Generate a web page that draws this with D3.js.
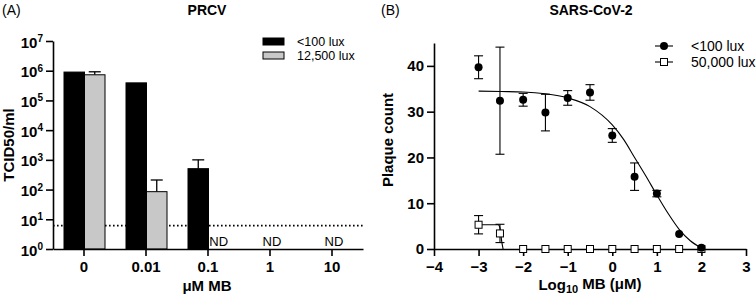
<!DOCTYPE html>
<html>
<head>
<meta charset="utf-8">
<script src="https://cdn.jsdelivr.net/npm/d3@7"></script>
<style>
  body { margin: 0; background: #fff; }
  svg { display: block; font-family: "Liberation Sans", Arial, sans-serif; }
  .axis path, .axis line { stroke: #000; stroke-width: 1.6px; }
  .axis text { font-size: 15px; font-weight: bold; fill: #000; }
</style>
</head>
<body>
<div id="chart"></div>
<script>
// Panel A: PRCV titers (TCID50/ml)
const categories = ["0", "0.01", "0.1", "1", "10"];
const seriesA = ["<100 lux", "12,500 lux"];
const darkTiter = [9.0e5, 3.9e5, 505, null, null];
const darkTiterErr = [null, null, 1000, null, null];   // upper end of error bar
const lightTiter = [7.3e5, 85, null, null, null];
const lightTiterErr = [9.2e5, 210, null, null, null];
const detectionLimit = 6.1;
const logTicks = [1, 10, 100, 1e3, 1e4, 1e5, 1e6, 1e7];

// Panel B: SARS-CoV-2 plaque counts
const seriesB = ["<100 lux", "50,000 lux"];
const logMB = [-3, -2.52, -2, -1.5, -1, -0.5, 0, 0.5, 1, 1.5, 2];
const darkCount = [39.7, 32.4, 32.6, 29.8, 33.0, 34.2, 24.8, 15.8, 12.1, 3.3, 0.3];
const darkSD = [2.5, 11.7, 1.4, 4.0, 1.6, 1.7, 1.5, 3.0, 0.7, 0.3, 0.3];
const lightCount = [5.3, 3.4, 0, 0, 0, 0, 0, 0, 0, 0, 0];
const lightSD = [2.0, 2.0, 0, 0, 0, 0, 0, 0, 0, 0, 0];
// fitted curves
const darkFitX = [-3, -2.5, -2, -1.5, -1, -0.5, 0, 0.25, 0.5, 0.75, 1, 1.25, 1.5, 1.75, 2];
const darkFitY = [34.5, 34.4, 34.3, 33.9, 33.0, 31.1, 27.1, 24.0, 20.0, 16.0, 11.8, 7.8, 4.3, 1.8, 0.2];
const lightFitX = [-3, -2.56, -2.52, -2.48, -2.45];
const lightFitY = [5.3, 5.3, 4.6, 1.6, 0];

const svg = d3.select("#chart")
    .append("svg")
    .attr("width", 756)
    .attr("height", 299);

// ---------- Panel A ----------
const gA = svg.append("g");

const x0 = d3.scaleBand()
    .domain(categories)
    .range([53, 363]);

const x1 = d3.scaleBand()
    .domain(seriesA)
    .range([11, 52]);

const yA = d3.scaleLog()
    .domain([1, 1e7])
    .range([249, 41]);

// dotted detection limit
gA.append("line")
    .attr("x1", 53).attr("x2", 363)
    .attr("y1", yA(detectionLimit)).attr("y2", yA(detectionLimit))
    .attr("stroke", "#000")
    .attr("stroke-width", 1.6)
    .attr("stroke-dasharray", "1.6,2.4");

const barRows = categories.map((c, i) => [
    { cat: c, s: seriesA[0], v: darkTiter[i], err: darkTiterErr[i], fill: "#000" },
    { cat: c, s: seriesA[1], v: lightTiter[i], err: lightTiterErr[i], fill: "#c8c8c8" }
]).flat().filter(d => d.v != null);

// error bars (upper only)
const errA = gA.selectAll(".errA")
    .data(barRows.filter(d => d.err != null))
    .join("g")
    .attr("class", "errA");
errA.append("line")
    .attr("x1", d => x0(d.cat) + x1(d.s) + x1.bandwidth() / 2)
    .attr("x2", d => x0(d.cat) + x1(d.s) + x1.bandwidth() / 2)
    .attr("y1", d => yA(d.v))
    .attr("y2", d => yA(d.err))
    .attr("stroke", "#000").attr("stroke-width", 1.3);
errA.append("line")
    .attr("x1", d => x0(d.cat) + x1(d.s) + x1.bandwidth() / 2 - 6)
    .attr("x2", d => x0(d.cat) + x1(d.s) + x1.bandwidth() / 2 + 6)
    .attr("y1", d => yA(d.err))
    .attr("y2", d => yA(d.err))
    .attr("stroke", "#000").attr("stroke-width", 1.3);

gA.selectAll(".bar")
    .data(barRows)
    .join("rect")
    .attr("class", "bar")
    .attr("x", d => x0(d.cat) + x1(d.s))
    .attr("y", d => yA(d.v))
    .attr("width", x1.bandwidth())
    .attr("height", d => yA(1) - yA(d.v))
    .attr("fill", d => d.fill)
    .attr("stroke", "#000")
    .attr("stroke-width", 1);

// ND labels
categories.forEach((c, i) => {
    if (lightTiter[i] != null) return;
    const x = darkTiter[i] != null
        ? x0(c) + x1(seriesA[1]) + x1.bandwidth() / 2
        : x0(c) + x0.bandwidth() / 2 + 2;
    gA.append("text")
        .attr("x", x).attr("y", 246)
        .attr("text-anchor", "middle")
        .style("font-size", "13px")
        .text("ND");
});

// axes
gA.append("g")
    .attr("class", "axis")
    .attr("transform", "translate(0,249)")
    .call(d3.axisBottom(x0).tickSize(7).tickSizeOuter(0).tickPadding(5));

const yAxisA = gA.append("g")
    .attr("class", "axis")
    .attr("transform", "translate(53,0)")
    .call(d3.axisLeft(yA).tickValues(logTicks).tickFormat("").tickSize(7).tickSizeOuter(0));

yAxisA.selectAll(".tick").append("text")
    .attr("x", -10)
    .attr("dy", "0.4em")
    .attr("text-anchor", "end")
    .each(function(d) {
        const t = d3.select(this);
        t.append("tspan").text("10");
        t.append("tspan")
            .attr("dy", "-0.55em")
            .style("font-size", "10px")
            .text(Math.round(Math.log10(d)));
    });
yAxisA.selectAll(".tick text").attr("fill", "#000");

gA.append("text")
    .attr("transform", "translate(14,145) rotate(-90)")
    .attr("text-anchor", "middle")
    .style("font-size", "15px").style("font-weight", "bold")
    .text("TCID50/ml");

gA.append("text")
    .attr("x", 207).attr("y", 291)
    .attr("text-anchor", "middle")
    .style("font-size", "15px").style("font-weight", "bold")
    .text("μM MB");

gA.append("text")
    .attr("x", 207).attr("y", 15)
    .attr("text-anchor", "middle")
    .style("font-size", "14px").style("font-weight", "bold")
    .text("PRCV");

gA.append("text")
    .attr("x", 2).attr("y", 15)
    .style("font-size", "14px")
    .text("(A)");

// legend A
const legA = gA.selectAll(".legA")
    .data(seriesA)
    .join("g")
    .attr("class", "legA")
    .attr("transform", (d, i) => `translate(263,${38 + i * 14})`);
legA.append("rect")
    .attr("width", 21).attr("height", 7)
    .attr("fill", (d, i) => i === 0 ? "#000" : "#c8c8c8")
    .attr("stroke", "#000").attr("stroke-width", 1);
legA.append("text")
    .attr("x", 34).attr("y", 8)
    .style("font-size", "12.5px")
    .text(d => d);

// ---------- Panel B ----------
const gB = svg.append("g");

const xB = d3.scaleLinear().domain([-4, 3]).range([434, 746]);
const yB = d3.scaleLinear().domain([0, 45]).range([249, 43]);

const line = d3.line()
    .x(d => xB(d[0]))
    .y(d => yB(d[1]))
    .curve(d3.curveMonotoneX);

gB.append("path")
    .datum(darkFitX.map((x, i) => [x, darkFitY[i]]))
    .attr("d", line)
    .attr("fill", "none").attr("stroke", "#000").attr("stroke-width", 1.1);

gB.append("path")
    .datum(lightFitX.map((x, i) => [x, lightFitY[i]]))
    .attr("d", line)
    .attr("fill", "none").attr("stroke", "#000").attr("stroke-width", 1.1);

gB.append("g")
    .attr("class", "axis")
    .attr("transform", "translate(0,249)")
    .call(d3.axisBottom(xB).ticks(7).tickSize(7).tickSizeOuter(0).tickPadding(5)
        .tickFormat(d => d < 0 ? "\u2212" + Math.abs(d) : d));

gB.append("g")
    .attr("class", "axis")
    .attr("transform", "translate(434,0)")
    .call(d3.axisLeft(yB).tickValues([0, 10, 20, 30, 40]).tickSize(7).tickSizeOuter(0).tickPadding(3));

function errorBars(means, sds) {
    const rows = logMB.map((x, i) => ({ x: x, m: means[i], sd: sds[i] })).filter(d => d.sd > 0.5);
    const g = gB.append("g").selectAll("g").data(rows).join("g");
    g.append("line")
        .attr("x1", d => xB(d.x)).attr("x2", d => xB(d.x))
        .attr("y1", d => yB(d.m - d.sd)).attr("y2", d => yB(d.m + d.sd))
        .attr("stroke", "#000").attr("stroke-width", 1.1);
    [-1, 1].forEach(s => {
        g.append("line")
            .attr("x1", d => xB(d.x) - 4.5).attr("x2", d => xB(d.x) + 4.5)
            .attr("y1", d => yB(d.m + s * d.sd)).attr("y2", d => yB(d.m + s * d.sd))
            .attr("stroke", "#000").attr("stroke-width", 1.1);
    });
}
errorBars(lightCount, lightSD);
errorBars(darkCount, darkSD);

gB.selectAll(".sq")
    .data(logMB.map((x, i) => [x, lightCount[i]]))
    .join("rect")
    .attr("class", "sq")
    .attr("x", d => xB(d[0]) - 3.5)
    .attr("y", d => yB(d[1]) - 3.5)
    .attr("width", 7).attr("height", 7)
    .attr("fill", "#fff")
    .attr("stroke", "#000").attr("stroke-width", 1);

gB.selectAll(".dot")
    .data(logMB.map((x, i) => [x, darkCount[i]]))
    .join("circle")
    .attr("class", "dot")
    .attr("cx", d => xB(d[0]))
    .attr("cy", d => yB(d[1]))
    .attr("r", 4)
    .attr("fill", "#000");

gB.append("text")
    .attr("transform", "translate(393,140) rotate(-90)")
    .attr("text-anchor", "middle")
    .style("font-size", "15px").style("font-weight", "bold")
    .text("Plaque count");

const xlabB = gB.append("text")
    .attr("x", 590).attr("y", 290)
    .attr("text-anchor", "middle")
    .style("font-size", "15px").style("font-weight", "bold");
xlabB.append("tspan").text("Log");
xlabB.append("tspan").attr("dy", "0.3em").style("font-size", "11px").text("10");
xlabB.append("tspan").attr("dy", "-0.3em").text(" MB (μM)");

gB.append("text")
    .attr("x", 591).attr("y", 15)
    .attr("text-anchor", "middle")
    .style("font-size", "14px").style("font-weight", "bold")
    .text("SARS-CoV-2");

gB.append("text")
    .attr("x", 381).attr("y", 15)
    .style("font-size", "14px")
    .text("(B)");

// legend B
const legB = gB.selectAll(".legB")
    .data(seriesB)
    .join("g")
    .attr("class", "legB")
    .attr("transform", (d, i) => `translate(655,${46 + i * 16})`);
legB.append("line")
    .attr("x1", 0).attr("x2", 18)
    .attr("stroke", "#000").attr("stroke-width", 1.1);
legB.filter((d, i) => i === 0).append("circle")
    .attr("cx", 9).attr("r", 4).attr("fill", "#000");
legB.filter((d, i) => i === 1).append("rect")
    .attr("x", 5.5).attr("y", -3.5).attr("width", 7).attr("height", 7)
    .attr("fill", "#fff").attr("stroke", "#000");
legB.append("text")
    .attr("x", 36).attr("y", 5)
    .style("font-size", "14px")
    .text(d => d);
</script>
</body>
</html>
